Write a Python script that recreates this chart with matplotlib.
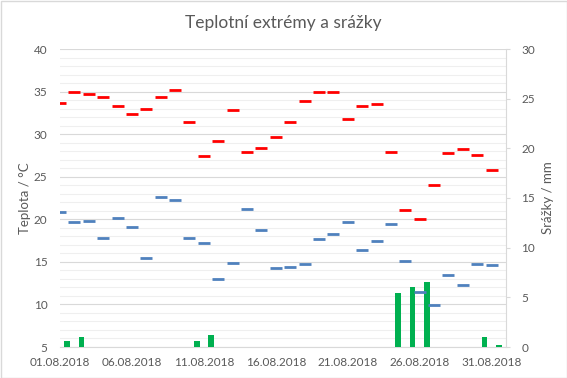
import numpy as np
import pandas as pd
import matplotlib
matplotlib.use("Agg")
import matplotlib.pyplot as plt
import matplotlib.dates as mdates
from matplotlib.transforms import blended_transform_factory

plt.rcParams['font.family'] = ['Lato', 'DejaVu Sans']

# --- data (srpen 2018) ---
dates = pd.date_range("2018-08-01", "2018-08-31", freq="D")
t_max = [33.6, 35.0, 34.7, 34.4, 33.3, 32.4, 33.0, 34.4, 35.2, 31.4,
         27.4, 29.2, 32.8, 27.9, 28.4, 29.7, 31.4, 33.9, 35.0, 34.9,
         31.8, 33.3, 33.5, 27.9, 21.1, 20.0, 24.0, 27.8, 28.3, 27.5, 25.8]
t_min = [20.8, 19.7, 19.8, 17.8, 20.2, 19.1, 15.5, 22.6, 22.3, 17.8,
         17.2, 13.0, 14.9, 21.2, 18.7, 14.3, 14.4, 14.7, 17.7, 18.3,
         19.7, 16.4, 17.5, 19.4, 15.1, 11.5, 9.9, 13.5, 12.3, 14.8, 14.6]
srazky = [0.6, 1.0, 0, 0, 0, 0, 0, 0, 0, 0.6,
          1.2, 0, 0, 0, 0, 0, 0, 0, 0, 0,
          0, 0, 0, 5.4, 6.0, 6.5, 0, 0, 0, 1.0, 0.2]

gray = "#595959"
grid_major = "#d9d9d9"
grid_minor = "#efefef"

fig = plt.figure(figsize=(5.67, 3.78), dpi=100)
ax1 = fig.add_axes([60/567, 1 - 347/378, 446/567, 298/378])
ax2 = ax1.twinx()

# bary na sekundarni ose, pod teplotami
ax2.set_zorder(1)
ax1.set_zorder(2)
ax1.patch.set_visible(False)

bar_x = dates + pd.Timedelta(hours=12)
ax2.bar(bar_x, srazky, width=0.4, color="#00b050", zorder=3)
ax2.set_ylim(0, 30)
ax2.set_yticks(range(0, 31, 5))

ax1.plot(dates, t_max, linestyle="none", marker="_", markersize=9,
         markeredgewidth=2, color="#ff0000")
ax1.plot(dates, t_min, linestyle="none", marker="_", markersize=9,
         markeredgewidth=2, color="#4f81bd")
ax1.set_ylim(5, 40)
ax1.set_yticks(range(5, 41, 5))

ax1.set_xlim(pd.Timestamp("2018-08-01"), pd.Timestamp("2018-09-01"))
ax1.set_xticks(dates[::5])
ax1.xaxis.set_minor_locator(mdates.DayLocator())
ax1.xaxis.set_major_formatter(mdates.DateFormatter("%d.%m.%Y"))

# mrizka podle leve osy, kreslena pod sloupci
tr = blended_transform_factory(ax2.transAxes, ax1.transData)
for v in np.arange(5, 41, 1):
    c = grid_major if v % 5 == 0 else grid_minor
    ax2.plot([0, 1], [v, v], transform=tr, color=c, lw=0.8, zorder=1 if v % 5 else 2)
ax2.grid(False)
ax2.xaxis.grid(True, which="major", color=grid_major, lw=0.8, zorder=2)
ax2.xaxis.grid(True, which="minor", color=grid_minor, lw=0.8, zorder=1)
ax2.set_axisbelow(True)

for ax in (ax1, ax2):
    for s in ax.spines.values():
        s.set_visible(False)
ax2.spines["right"].set_visible(True)
ax2.spines["right"].set_color(grid_major)
ax2.spines["bottom"].set_visible(True)
ax2.spines["bottom"].set_color(grid_major)

ax1.tick_params(axis="y", length=0, labelsize=8.5, labelcolor=gray, pad=9)
ax1.tick_params(axis="x", which="both", length=0, labelsize=8.5, labelcolor=gray, pad=7)
ax2.tick_params(axis="y", length=3, color=grid_major, labelsize=8.5, labelcolor=gray, pad=8)

ax1.set_ylabel("Teplota / °C", color=gray, fontsize=9.5, labelpad=2)
ax2.set_ylabel("Srážky / mm", color=gray, fontsize=9.5, labelpad=5)
fig.suptitle("Teplotní extrémy a srážky", color=gray, fontsize=12.5, y=0.96)

fig.patches.append(plt.Rectangle((0.5/567, 0.5/378), 1 - 1/567, 1 - 1/378,
                                 transform=fig.transFigure, fill=False,
                                 edgecolor="#d9d9d9", lw=1))

fig.savefig("out.png", dpi=100)
